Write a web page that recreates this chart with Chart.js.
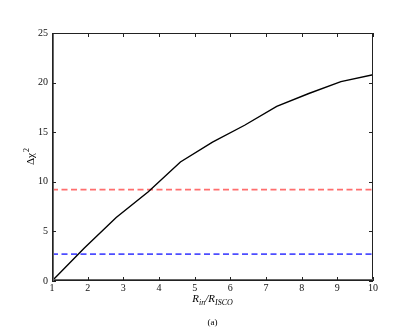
<!DOCTYPE html>
<html>
<head>
<meta charset="utf-8">
<script src="https://cdn.jsdelivr.net/npm/chart.js@4/dist/chart.umd.min.js"></script>
<style>
  html, body { margin: 0; padding: 0; background: #fff; }
  #wrap { width: 415px; height: 332px; }
</style>
</head>
<body>
<div id="wrap"><canvas id="chart" width="415" height="332"></canvas></div>
<script>
// data
const rRatio = [1, 1.9, 2.8, 3.7, 4.6, 5.5, 6.4, 7.3, 8.2, 9.1, 10];
const deltaChi2 = [0, 3.3, 6.4, 9.0, 12.0, 14.0, 15.7, 17.6, 18.9, 20.1, 20.8];
const level90 = 2.71;
const level99 = 9.21;
const xTicks = [1, 2, 3, 4, 5, 6, 7, 8, 9, 10];
const yTicks = [0, 5, 10, 15, 20, 25];

const serif = "'Liberation Serif', 'DejaVu Serif', serif";

function hline(y, color) {
    return {
        data: [{x: 1, y: y}, {x: 10, y: y}],
        borderColor: color,
        borderWidth: 1.7,
        borderDash: [6, 3.5],
        pointRadius: 0,
        fill: false
    };
}

// frame, inward ticks and the axis titles
const frame = {
    id: 'frame',
    afterDraw(chart) {
        const c = chart.ctx;
        const a = chart.chartArea;
        const xs = chart.scales.x, ys = chart.scales.y;
        c.save();
        c.strokeStyle = '#222';
        c.lineWidth = 1;
        c.strokeRect(a.left + 0.5, a.top + 0.5, a.right - a.left - 1, a.bottom - a.top - 1);
        // left and bottom spines look a bit heavier and greyer
        c.strokeStyle = '#666';
        c.beginPath();
        c.moveTo(a.left + 1.5, a.top); c.lineTo(a.left + 1.5, a.bottom);
        c.moveTo(a.left, a.bottom - 1.5); c.lineTo(a.right, a.bottom - 1.5);
        c.stroke();
        c.strokeStyle = '#222';
        xTicks.forEach(v => {
            const px = Math.round(xs.getPixelForValue(v)) + 0.5;
            c.beginPath();
            c.moveTo(px, a.bottom); c.lineTo(px, a.bottom - 4);
            c.moveTo(px, a.top); c.lineTo(px, a.top + 4);
            c.stroke();
        });
        yTicks.forEach(v => {
            const py = Math.round(ys.getPixelForValue(v)) + 0.5;
            c.beginPath();
            c.moveTo(a.left, py); c.lineTo(a.left + 4, py);
            c.moveTo(a.right, py); c.lineTo(a.right - 4, py);
            c.stroke();
        });

        c.fillStyle = '#000';
        // x title: R_in / R_ISCO
        const cx = (a.left + a.right) / 2;
        const parts = [
            ['R', 'italic 11px ' + serif, 0],
            ['in', 'italic 8px ' + serif, 3],
            ['/', 'italic 11px ' + serif, 0],
            ['R', 'italic 11px ' + serif, 0],
            ['ISCO', 'italic 8px ' + serif, 3]
        ];
        let w = 0;
        parts.forEach(p => { c.font = p[1]; w += c.measureText(p[0]).width; });
        let x = cx - w / 2;
        c.textBaseline = 'alphabetic';
        c.textAlign = 'left';
        parts.forEach(p => {
            c.font = p[1];
            c.fillText(p[0], x, 302 + p[2]);
            x += c.measureText(p[0]).width;
        });
        c.font = '9px ' + serif;
        c.textAlign = 'center';
        c.fillText('(a)', cx, 325);

        // y title: Δχ²
        c.translate(34, 157);
        c.rotate(-Math.PI / 2);
        c.textAlign = 'left';
        c.font = '11px ' + serif;
        const t1 = 'Δχ';
        const w1 = c.measureText(t1).width;
        c.fillText(t1, -w1 / 2 - 2, 0);
        c.font = '8px ' + serif;
        c.fillText('2', w1 / 2 - 1, -5);
        c.restore();
    }
};

new Chart(document.getElementById('chart'), {
    type: 'line',
    data: {
        datasets: [
            {
                data: rRatio.map((r, i) => ({x: r, y: deltaChi2[i]})),
                borderColor: '#000',
                borderWidth: 1.4,
                pointRadius: 0,
                tension: 0,
                fill: false
            },
            hline(level99, '#ff6e6e'),
            hline(level90, '#4d4dff')
        ]
    },
    options: {
        responsive: false,
        animation: false,
        layout: { padding: { top: 33, right: 42, left: 0, bottom: 0 } },
        plugins: { legend: { display: false }, tooltip: { enabled: false } },
        scales: {
            x: {
                type: 'linear',
                min: 1, max: 10,
                afterFit(s) { s.height = 51; },
                afterBuildTicks(s) { s.ticks = xTicks.map(v => ({value: v})); },
                grid: { display: false, drawTicks: false, tickLength: 0 },
                border: { display: false },
                ticks: { color: '#111', font: { family: serif, size: 10 }, padding: 1, maxRotation: 0 }
            },
            y: {
                min: 0, max: 25,
                afterFit(s) { s.width = 52; },
                afterBuildTicks(s) { s.ticks = yTicks.map(v => ({value: v})); },
                grid: { display: false, drawTicks: false, tickLength: 0 },
                border: { display: false },
                ticks: { color: '#111', font: { family: serif, size: 10 }, padding: 4 }
            }
        }
    },
    plugins: [frame]
});
</script>
</body>
</html>
